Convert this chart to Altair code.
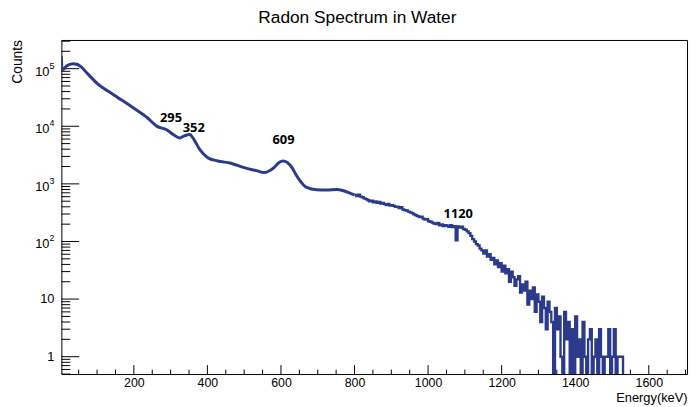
import altair as alt
import pandas as pd

# ---------------- data ----------------
# smooth low-energy part (keV, counts)
smooth_energy = [3, 5, 9, 17, 34, 47, 57, 74, 101, 146, 200, 236, 263, 289, 307,
                 325, 337, 352, 364, 379, 401, 428, 464, 500, 536, 554, 565, 581,
                 595, 606, 617, 630, 641, 652, 670, 697, 724, 751, 770, 787, 800]
smooth_counts = [165000, 95000, 98000, 111000, 122000, 118000, 107000, 82000, 55000,
                 35000, 20600, 14200, 9960, 8700, 7200, 6270, 6800, 7200, 5800, 3960,
                 2850, 2500, 2280, 1910, 1680, 1570, 1640, 1910, 2360, 2500, 2360,
                 1910, 1440, 1130, 867, 790, 780, 800, 760, 690, 645]

# binned part, 5 keV bins starting at 800 keV
BIN_START = 800
BIN_WIDTH = 5
binned_counts = [640, 615, 650, 600, 585, 560, 545,
                 520, 500, 510, 480, 495, 470, 485, 455, 465,
                 445, 430, 450, 420, 425, 415, 400,
                 400, 380, 395, 360, 350, 345, 330, 320, 310, 295, 285,
                 275, 265, 270, 250, 240, 245, 225, 220, 212,
                 205, 200, 210, 190, 198, 185, 192,
                 188, 180, 192, 178, 185,
                 105,
                 182, 175, 180, 165, 160,
                 150, 140, 125, 110, 100, 90, 85, 75, 70,
                 62, 70, 55, 60, 48, 52, 40, 47, 36, 42, 30, 38, 28, 33, 20, 30, 24, 17,
                 22, 25, 13, 18, 14, 20, 8, 14, 10, 16, 6, 12, 9, 4, 11, 7, 3, 9, 6, 4,
                 0, 7, 3, 5, 1, 0, 6, 2, 4, 0, 3, 0, 5, 1, 2, 0, 4, 1, 0, 2, 3, 0, 1, 2,
                 0, 3, 1, 0, 1, 1, 3, 0, 1, 3, 0, 1, 1, 1, 0, 0]
END_ENERGY = 1704

peak_labels = ["295", "352", "609", "1120"]
peak_energy = [301, 363, 607, 1082]
peak_counts = [13800, 9300, 5720, 298]

x_major = [200, 400, 600, 800, 1000, 1200, 1400, 1600]
x_minor = [v for v in range(50, 1701, 50) if v % 200 != 0]
y_major = [1, 10, 100, 1000, 10000, 100000]
y_plain = ["1", "10"]
y_exp = ["2", "3", "4", "5"]
y_minor = [0.5, 0.6, 0.7, 0.8, 0.9] + [m * 10 ** k for k in range(0, 5) for m in range(2, 10)] + [200000, 300000]

TITLE = "Radon Spectrum in Water"
XTITLE = "Energy(keV)"
YTITLE = "Counts"

# ---------------- tables ----------------
W, H = 633, 338
LINE = "#2c3a8c"

smooth_df = pd.DataFrame({"energy": smooth_energy, "counts": smooth_counts})
bin_e = [BIN_START + i * BIN_WIDTH for i in range(len(binned_counts))] + [END_ENERGY]
bin_c = [max(c, 0.1) for c in binned_counts] + [0.1]
bin_df = pd.DataFrame({"energy": bin_e, "counts": bin_c})
peaks_df = pd.DataFrame({"energy": peak_energy, "counts": peak_counts, "label": peak_labels})

xs = alt.Scale(domain=[3, END_ENERGY], nice=False, zero=False)
ys = alt.Scale(type="log", domain=[0.5, 315000], nice=False)

x_axis = alt.Axis(values=x_major, format="d", ticks=False, domain=False, grid=False,
                  labelFont="Liberation Sans", labelFontSize=12.5, labelColor="black",
                  labelPadding=2.5, labelOverlap=False, labelFlush=False,
                  title=XTITLE, titleX=W, titleY=27.5, titleAlign="right",
                  titleBaseline="alphabetic", titleFont="Liberation Sans",
                  titleFontSize=13, titleFontWeight="normal", titleColor="black")


def X(field):
    return alt.X(field, type="quantitative", scale=xs, axis=x_axis)


def Y(field):
    return alt.Y(field, type="quantitative", scale=ys, axis=None)


smooth = alt.Chart(smooth_df).mark_line(interpolate="monotone", color=LINE,
                                        strokeWidth=3, clip=True).encode(
    x=X("energy"), y=Y("counts"))

binned = alt.Chart(bin_df).mark_line(interpolate="step-after", color=LINE,
                                     strokeWidth=2.4, clip=True).encode(
    x=X("energy"), y=Y("counts"))

peaks = alt.Chart(peaks_df).mark_text(font="Open Sans", fontWeight="bold", fontSize=13,
                                      color="black", align="center", baseline="middle").encode(
    x=X("energy"), y=Y("counts"), text="label:N")

# ticks (inward, ROOT style)
xmaj = alt.Chart(pd.DataFrame({"v": x_major})).mark_rule(color="black", strokeWidth=1).encode(
    x=X("v"), y=alt.value(H), y2=alt.value(H - 9))
xmin = alt.Chart(pd.DataFrame({"v": x_minor})).mark_rule(color="black", strokeWidth=1).encode(
    x=X("v"), y=alt.value(H), y2=alt.value(H - 4.5))
ymaj = alt.Chart(pd.DataFrame({"v": y_major})).mark_rule(color="black", strokeWidth=1).encode(
    y=Y("v"), x=alt.value(0), x2=alt.value(18))
ymin = alt.Chart(pd.DataFrame({"v": y_minor})).mark_rule(color="black", strokeWidth=1).encode(
    y=Y("v"), x=alt.value(0), x2=alt.value(9))

# y tick labels with superscript exponents
plain_df = pd.DataFrame({"v": y_major[:2], "t": y_plain})
exp_df = pd.DataFrame({"v": y_major[2:], "t": y_exp, "b": ["10"] * 4})
ylab_plain = alt.Chart(plain_df).mark_text(font="Liberation Sans", fontSize=13, color="black",
                                           align="right", baseline="middle").encode(
    y=Y("v"), x=alt.value(-7), text="t:N")
ylab_base = alt.Chart(exp_df).mark_text(font="Liberation Sans", fontSize=13, color="black",
                                        align="right", baseline="middle", dy=3).encode(
    y=Y("v"), x=alt.value(-12), text="b:N")
ylab_exp = alt.Chart(exp_df).mark_text(font="Liberation Sans", fontSize=9, color="black",
                                       align="right", baseline="middle", dy=-3).encode(
    y=Y("v"), x=alt.value(-7), text="t:N")

title = alt.Chart(pd.DataFrame({"t": [TITLE]})).mark_text(
    font="Liberation Sans", fontSize=17.5, color="black", align="center",
    baseline="alphabetic").encode(x=alt.value(299.5), y=alt.value(-17.3), text="t:N")
ytitle = alt.Chart(pd.DataFrame({"t": [YTITLE]})).mark_text(
    font="Liberation Sans", fontSize=14, color="black", align="right",
    baseline="alphabetic", angle=270).encode(x=alt.value(-40.3), y=alt.value(0), text="t:N")

chart = alt.layer(
    xmin, xmaj, ymin, ymaj, smooth, binned, peaks,
    ylab_plain, ylab_base, ylab_exp, title, ytitle
).properties(
    width=W, height=H,
    autosize=alt.AutoSizeParams(type="none"),
    padding={"left": 54, "top": 30, "right": 3, "bottom": 30},
).configure_view(stroke="black", strokeWidth=1)

chart.save("out.html", embed_options={"renderer": "svg", "actions": False})
